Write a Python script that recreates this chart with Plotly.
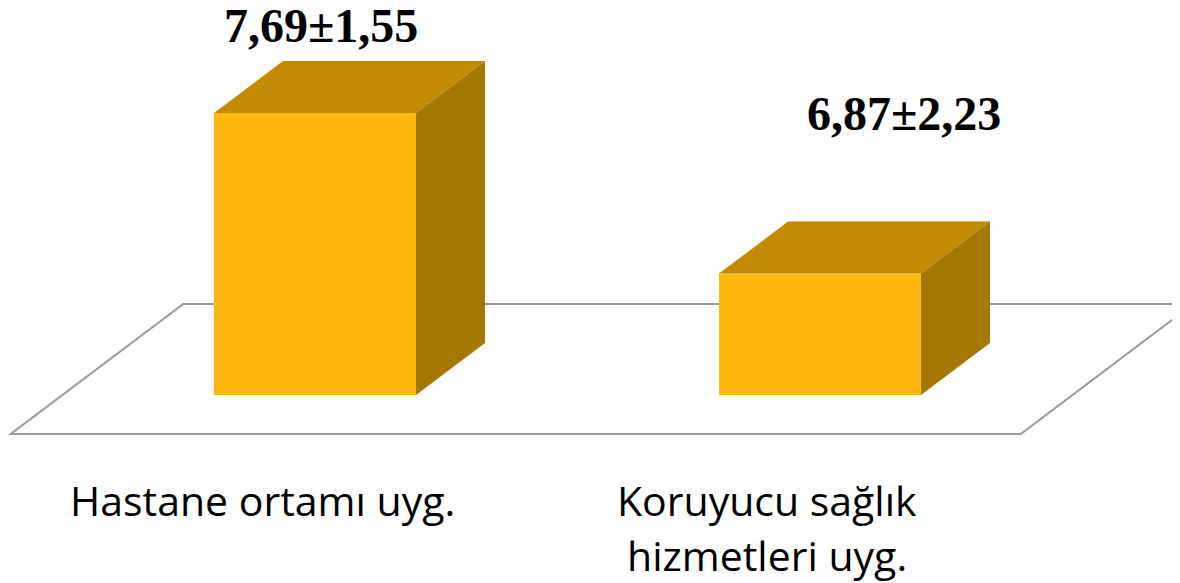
import plotly.graph_objects as go

# data
categories = ["Hastane ortamı uyg.", "Koruyucu sağlık\nhizmetleri uyg."]
means = [7.69, 6.87]
sds = [1.55, 2.23]

floor_value = 6.25  # value at which the bars stand

front_col = "#FEB80F"
top_col = "#C48A03"
side_col = "#A57705"

# pixel scale helpers; the page puts the figure 8px in from the corner
off = 8
px_per_x = 505.0
px_per_y = 195.8
x0 = (off - 315) / px_per_x
x1 = x0 + 1180 / px_per_x
y1 = floor_value + (395 - off) / px_per_y
y0 = y1 - 583 / px_per_y

bw = 0.4                    # bar width (category units)
ddx = 69 / px_per_x         # depth offset in x
ddy = 52 / px_per_y         # depth offset in y

fig = go.Figure()

xs = list(range(len(categories)))

# front faces
fig.add_trace(go.Bar(x=xs, y=[m - floor_value for m in means], base=floor_value,
                     width=bw, marker_color=front_col, marker_line_width=0,
                     hoverinfo="skip", showlegend=False))

def poly(pts, color):
    fig.add_trace(go.Scatter(x=[p[0] for p in pts] + [pts[0][0]],
                             y=[p[1] for p in pts] + [pts[0][1]],
                             mode="lines", fill="toself", fillcolor=color,
                             line=dict(width=0, color=color),
                             hoverinfo="skip", showlegend=False))

for i, m in zip(xs, means):
    l, r = i - bw / 2, i + bw / 2
    # top face
    poly([(l, m), (r, m), (r + ddx, m + ddy), (l + ddx, m + ddy)], top_col)
    # side face
    poly([(r, floor_value), (r, m), (r + ddx, m + ddy), (r + ddx, floor_value + ddy)], side_col)

# floor
fl, fr = -0.5, len(categories) - 0.5
ff = (-0.75 * ddx, floor_value - 0.75 * ddy)
fb = (1.75 * ddx, floor_value + 1.75 * ddy)
path = (f"M {fl + ff[0]},{ff[1]} L {fr + ff[0]},{ff[1]} "
        f"L {fr + fb[0]},{fb[1]} L {fl + fb[0]},{fb[1]} Z")
fig.add_shape(type="path", path=path, xref="x", yref="y", layer="below",
              line=dict(color="#9A9A9A", width=2), fillcolor="white")

# value labels (moved by hand in the original)
label_shift = [(6, 88), (84, 160)]
for i, (m, s) in enumerate(zip(means, sds)):
    txt = f"{m:.2f}±{s:.2f}".replace(".", ",")
    fig.add_annotation(x=i, y=m, text=f"<b>{txt}</b>", showarrow=False,
                       xanchor="center", yanchor="middle",
                       xshift=label_shift[i][0], yshift=label_shift[i][1],
                       font=dict(family="Liberation Serif, Times New Roman, serif",
                                 size=48, color="black"))

# category labels
for i, c in enumerate(categories):
    for k, line in enumerate(c.split("\n")):
        fig.add_annotation(x=i, y=ff[1], text=line, showarrow=False,
                           xanchor="center", yanchor="top",
                           xshift=-53, yshift=-36 - 55 * k,
                           font=dict(family="Open Sans, sans-serif", size=41,
                                     color="black"))

fig.update_layout(width=1180, height=583, margin=dict(l=0, r=0, t=0, b=0),
                  paper_bgcolor="white", plot_bgcolor="white",
                  barmode="overlay", showlegend=False,
                  xaxis=dict(range=[x0, x1], visible=False, fixedrange=True),
                  yaxis=dict(range=[y0, y1], visible=False, fixedrange=True))

fig.write_html("out.html")
